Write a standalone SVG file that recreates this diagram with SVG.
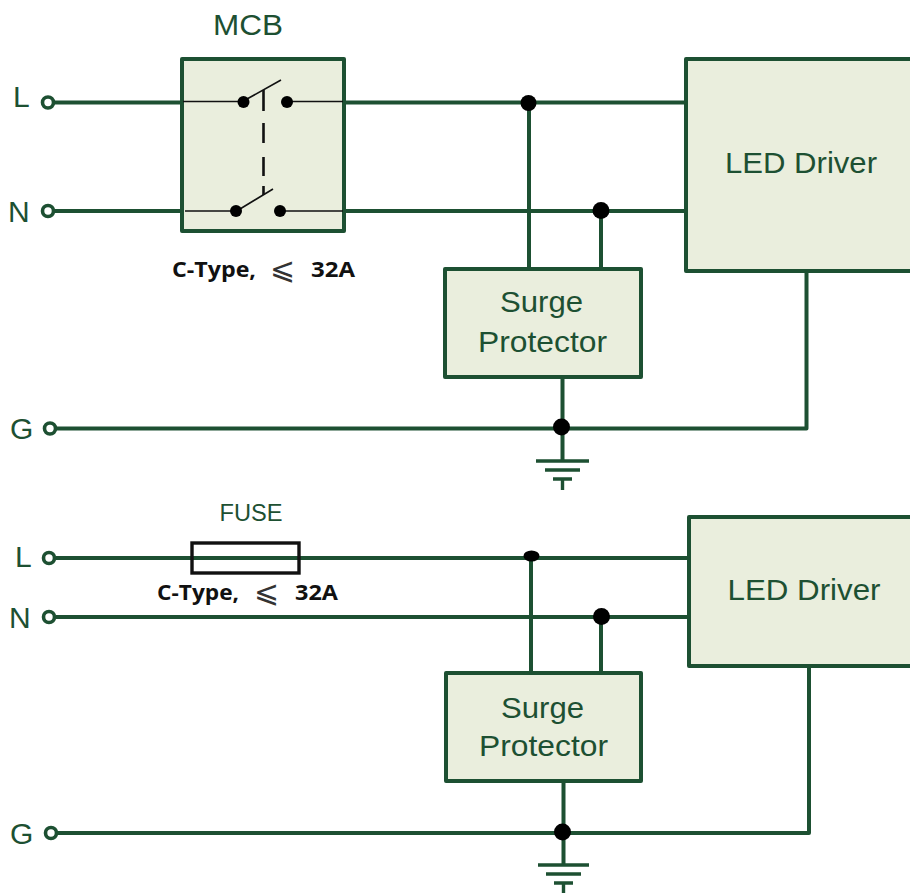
<svg xmlns="http://www.w3.org/2000/svg" width="910" height="893" viewBox="0 0 910 893">
<style>
.w{fill:none;stroke:#1d5032;stroke-width:4;stroke-linejoin:round}
.g{fill:none;stroke:#1d5032;stroke-width:3.400}
.b{fill:#eaeedd;stroke:#1d5032;stroke-width:4;stroke-linejoin:round}
.term{fill:#fff;stroke:#1d5032;stroke-width:3.600}
.d{fill:#000}
.k{fill:none;stroke:#111;stroke-width:1.600}
.dash{fill:none;stroke:#111;stroke-width:2.600}
text{font-family:"Liberation Sans",Arial,sans-serif;fill:#1d5032;font-size:30px}
.m{text-anchor:middle}
.s{font-family:"Open Sans","Noto Sans",sans-serif;font-weight:700;font-size:22px;fill:#111}
.le{font-family:"DejaVu Sans",sans-serif;font-size:30px;fill:#333;font-weight:400}
</style>
<g id="connectors">
<path class="w" d="M52 102.500H182M344 102.500H686M52 211H182M344 211H686M52 428.500H806.500V271"/>
<path class="w" d="M529 103V269M601 211V269M562.500 377V461"/>
<path class="g" d="M536 461H589M545 470H580M553 479H572M562.500 479V490"/>
<path class="w" d="M56 558H689M56 617H689M56 833H809V666"/>
<path class="w" d="M531 556V673M601 617V673M563.500 781V865"/>
<path class="g" d="M538 865H589M546 874H581M554 883H573M563.500 883V893"/>
</g>
<g id="junctions">
<circle class="d" cx="528.500" cy="103" r="8"/>
<circle class="d" cx="601" cy="210.500" r="8.500"/>
<circle class="d" cx="561.500" cy="427" r="8.500"/>
<ellipse class="d" cx="531.500" cy="556" rx="8" ry="5.500"/>
<circle class="d" cx="601.500" cy="616.500" r="8.500"/>
<circle class="d" cx="562.500" cy="832" r="8.500"/>
</g>
<g id="terminal-L1"><circle class="term" cx="48" cy="102.500" r="5.500"/><text x="13" y="107">L</text></g>
<g id="terminal-N1"><circle class="term" cx="48" cy="211" r="5.500"/><text x="8" y="222">N</text></g>
<g id="terminal-G1"><circle class="term" cx="50" cy="428.500" r="5.500"/><text x="10" y="439">G</text></g>
<g id="mcb">
<rect class="b" x="182" y="59" width="162" height="172"/>
<path class="k" d="M183 101.500H243M287 101.500H343M185 211H236M280 211H343M247 99L281 80M240 209L273 189"/>
<path class="dash" d="M263.500 90V111M263.500 123V143M263.500 157V176M263.500 186V195"/>
<circle class="d" cx="243.500" cy="102" r="6"/>
<circle class="d" cx="287" cy="102" r="6"/>
<circle class="d" cx="236" cy="211" r="6"/>
<circle class="d" cx="280" cy="211" r="6"/>
<text class="m" x="248" y="35" textLength="70" lengthAdjust="spacingAndGlyphs">MCB</text>
<text class="s" x="172" y="277" textLength="84" lengthAdjust="spacingAndGlyphs">C-Type,</text>
<text class="le" x="270" y="279">⩽</text>
<text class="s" x="311" y="277" textLength="44" lengthAdjust="spacingAndGlyphs">32A</text>
</g>
<g id="led-driver-1"><rect class="b" x="686" y="59" width="240" height="212"/><text class="m" x="801" y="173" textLength="152" lengthAdjust="spacingAndGlyphs">LED Driver</text></g>
<g id="surge-1"><rect class="b" x="445" y="269" width="196" height="108"/><text class="m" x="541.500" y="312" textLength="83" lengthAdjust="spacingAndGlyphs">Surge</text><text class="m" x="542.500" y="352" textLength="129" lengthAdjust="spacingAndGlyphs">Protector</text></g>
<g id="terminal-L2"><circle class="term" cx="49" cy="558" r="5.500"/><text x="15" y="567">L</text></g>
<g id="terminal-N2"><circle class="term" cx="49" cy="617" r="5.500"/><text x="9" y="628">N</text></g>
<g id="terminal-G2"><circle class="term" cx="51" cy="833" r="5.500"/><text x="10" y="844">G</text></g>
<g id="fuse">
<rect x="192" y="543" width="107" height="30" fill="none" stroke="#111" stroke-width="3.400"/>
<text class="m" x="251" y="521" style="font-size:23px" textLength="63" lengthAdjust="spacingAndGlyphs">FUSE</text>
<text class="s" x="157" y="600" textLength="82" lengthAdjust="spacingAndGlyphs">C-Type,</text>
<text class="le" x="254" y="602">⩽</text>
<text class="s" x="295" y="600" textLength="43" lengthAdjust="spacingAndGlyphs">32A</text>
</g>
<g id="led-driver-2"><rect class="b" x="689" y="517" width="240" height="149"/><text class="m" x="804" y="600" textLength="153" lengthAdjust="spacingAndGlyphs">LED Driver</text></g>
<g id="surge-2"><rect class="b" x="446" y="673" width="195" height="108"/><text class="m" x="542.500" y="718" textLength="83" lengthAdjust="spacingAndGlyphs">Surge</text><text class="m" x="543.500" y="756" textLength="129" lengthAdjust="spacingAndGlyphs">Protector</text></g>
</svg>
